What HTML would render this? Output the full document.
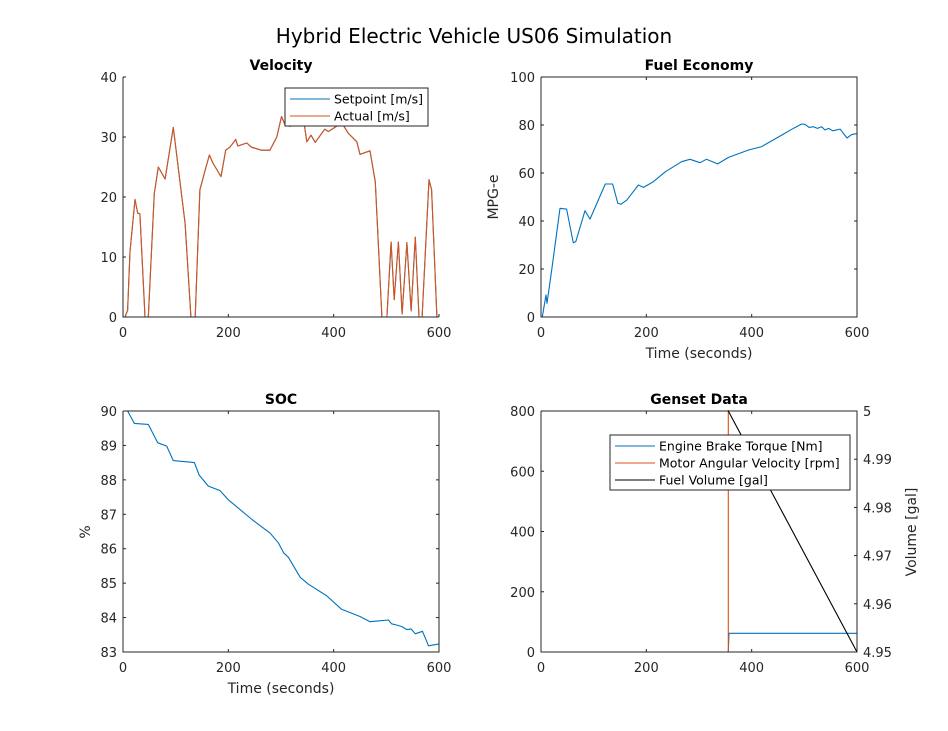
<!DOCTYPE html>
<html><head><meta charset="utf-8"><style>
body{margin:0;background:#fff;width:948px;height:731px;overflow:hidden}
svg{display:block;font-family:"DejaVu Sans","Liberation Sans",sans-serif}
</style></head><body>
<svg id="fig" width="948" height="731" viewBox="0 0 948 731" xmlns="http://www.w3.org/2000/svg">
<rect x="0" y="0" width="948" height="731" fill="#fff"/>
<text x="474" y="43" text-anchor="middle" font-size="20" fill="#000">Hybrid Electric Vehicle US06 Simulation</text>
</svg>
<script>
const velT=[0,3.8,8.8,13.3,22.8,28,32,41.8,48,59.5,67,80,95.6,118,129,137,146,156,164,171,186,195,203,214,218,235,244,263,279,292,301,308,317,330,344,349,357,365,383,390,409,418,428,444,450,469,479,491.5,501,509,515,523,530,539,547,555,562,568,581,586,596,600];
const velV=[0,0,1.1,10.9,19.6,17.3,17.2,0,0,20.6,25,23,31.6,15.6,0,0,21.2,24.5,27,25.6,23.4,27.8,28.3,29.6,28.5,29,28.3,27.8,27.8,30,33.4,32,31.8,32,32.2,29.2,30.3,29.1,31.3,30.9,32,32,30.6,29.2,27.1,27.7,22.5,0,0,12.5,2.9,12.5,0.5,12.4,1,13.3,0,0,22.9,21.2,0,0];
const feT=[0,2.5,9.5,11.4,20.3,36,48.7,61.4,66,83.5,93,122,136,146,152,163,185,194.6,213.6,236,267,283,302,314,335.5,356,394,419,457,476,495,501,509,517,525,533,539,546,554,568,581,590,600];
const feV=[0,0,9.2,5.7,19.6,45.3,44.9,30.9,31.4,44.3,40.8,55.4,55.4,47.3,47,48.7,55,54,56.4,60.5,64.7,65.7,64.3,65.7,63.8,66.5,69.6,71,75.8,78.2,80.4,80.3,79,79.3,78.6,79.3,77.9,78.6,77.6,78.3,74.6,76,76.4];
const socT=[0,8.8,21.5,48,65.8,83,95.6,135.5,144.4,162,184,200,245,279.5,295.5,305,314,336.5,352,387,415,450,469,504,510,520,529,539,547,555,568.7,580,599];
const socV=[90,90,89.64,89.61,89.08,88.98,88.56,88.5,88.14,87.82,87.69,87.42,86.85,86.45,86.16,85.88,85.75,85.17,84.97,84.63,84.24,84.03,83.88,83.93,83.82,83.78,83.74,83.65,83.67,83.53,83.6,83.18,83.23];
const torqT=[0,355.7,357,600];
const torqV=[0,0,62,62];
const angT=[0,355.7,355.7,600];
const angV=[0,0,820,820];
const fuelT=[0,355.7,600];
const fuelV=[5,5,4.95];
const xTicks=[0,200,400,600];
const velTicks=[0,10,20,30,40];
const feTicks=[0,20,40,60,80,100];
const socTicks=[83,84,85,86,87,88,89,90];
const genTicks=[0,200,400,600,800];
const volTicks=[4.95,4.96,4.97,4.98,4.99,5];
const volTickLabels=["4.95","4.96","4.97","4.98","4.99","5"];

const NS="http://www.w3.org/2000/svg";
const svg=document.getElementById('fig');
function mk(tag,attrs,parent){const e=document.createElementNS(NS,tag);for(const k in attrs)e.setAttribute(k,attrs[k]);(parent||svg).appendChild(e);return e;}
function txt(s,attrs,parent){const e=mk('text',attrs,parent);e.textContent=s;return e;}
function axes(name,x0,y0,x1,y1,xmin,xmax,ymin,ymax,box){
  const g=mk('g',{});
  
  
  const sx=v=>x0+(v-xmin)/(xmax-xmin)*(x1-x0);
  const sy=v=>y1-(v-ymin)/(ymax-ymin)*(y1-y0);
  return {g,sx,sy,x0,y0,x1,y1,box};
}
function frame(a){
  const c='#262626';
  const l=mk('path',{d:`M${a.x0},${a.y0}V${a.y1}H${a.x1}`+(a.box?`V${a.y0}H${a.x0}`:''),fill:'none',stroke:c,'stroke-width':1},a.g);
  
  
}
function xaxis(a){
  xTicks.forEach(t=>{const x=a.sx(t);
    mk('line',{x1:x,x2:x,y1:a.y1,y2:a.y1-3,stroke:'#262626'},a.g);
    if(a.box)mk('line',{x1:x,x2:x,y1:a.y0,y2:a.y0+3,stroke:'#262626'},a.g);
    const e=txt(String(t),{x:x,y:a.y1+20,'text-anchor':'middle','font-size':13,fill:'#262626'},a.g);
    
    
  });
}
function yaxis(a,ticks,right){
  ticks.forEach(t=>{const y=a.sy(t);
    mk('line',{x1:a.x0,x2:a.x0+3,y1:y,y2:y,stroke:'#262626'},a.g);
    if(a.box&&right!==false)mk('line',{x1:a.x1,x2:a.x1-3,y1:y,y2:y,stroke:'#262626'},a.g);
    const e=txt(String(t),{x:a.x0-6,y:y+5,'text-anchor':'end','font-size':13,fill:'#262626'},a.g);
    
    
  });
}
function line(a,T,V,color,name,sy){
  sy=sy||a.sy;
  const d=T.map((t,i)=>(i?'L':'M')+a.sx(t).toFixed(1)+','+sy(V[i]).toFixed(1)).join('');
  const p=mk('path',{d:d,fill:'none',stroke:color,'stroke-width':1.1,'stroke-linejoin':'round'},a.g);
  
  
  return p;
}
function title(a,s,name){
  const e=txt(s,{x:(a.x0+a.x1)/2,y:a.y0-7,'text-anchor':'middle','font-size':14,'font-weight':'bold',fill:'#000'},a.g);
  
  
}
function label(a,s,x,y,rot,name){
  const e=txt(s,{x:x,y:y,'text-anchor':'middle','font-size':14,fill:'#262626',transform:rot?`rotate(-90 ${x} ${y})`:''},a.g);
  
  
}
function legend(a,x,y,w,entries,name){
  const g=mk('g',{},a.g);
  
  
  const h=entries.length*17+4;
  mk('rect',{x:x,y:y,width:w,height:h,fill:'#fff',stroke:'#262626','stroke-width':1},g);
  entries.forEach((en,i)=>{const yy=y+11+i*17;
    mk('line',{x1:x+5,x2:x+45,y1:yy,y2:yy,stroke:en[1],'stroke-width':1.1},g);
    const t=txt(en[0],{x:x+49,y:yy+4.5,'font-size':12.5,fill:'#000'},g);
    
    
  });
}
const BLUE='#0072BD',ORANGE='#D95319';
// Velocity
let a=axes('velocity-axes',123,77,439,317,0,600,0,40,false);
line(a,velT,velV,BLUE,'setpoint-line');
line(a,velT,velV,ORANGE,'actual-line');
frame(a);xaxis(a);yaxis(a,velTicks);title(a,'Velocity','velocity-title');
legend(a,285,88,143,[['Setpoint [m/s]',BLUE],['Actual [m/s]',ORANGE]],'velocity-legend');
// Fuel economy
a=axes('fuel-economy-axes',541,77,857,317,0,600,0,100,true);
line(a,feT,feV,BLUE,'mpge-line');
frame(a);xaxis(a);yaxis(a,feTicks);title(a,'Fuel Economy','fuel-economy-title');
label(a,'MPG-e',498,197,true,'y-axis-title');
label(a,'Time (seconds)',699,358,false,'x-axis-title');
// SOC
a=axes('soc-axes',123,411,439,652,0,600,83,90,true);
line(a,socT,socV,BLUE,'soc-line');
frame(a);xaxis(a);yaxis(a,socTicks);title(a,'SOC','soc-title');
label(a,'%',90,532,true,'y-axis-title');
label(a,'Time (seconds)',281,693,false,'x-axis-title');
// Genset
a=axes('genset-axes',541,411,857,652,0,600,0,800,true);
const syR=v=>652-(v-4.95)/(0.05)*241;
const clip=mk('clipPath',{id:'gc'},svg);mk('rect',{x:541,y:410,width:316,height:243},clip);
const gl=mk('g',{'clip-path':'url(#gc)'},a.g);
const sub={g:gl,sx:a.sx,sy:a.sy};
line(sub,torqT,torqV,BLUE,'torque-line');
line(sub,angT,angV,ORANGE,'angular-velocity-line');
line(sub,fuelT,fuelV,'#000','fuel-volume-line',syR);
frame(a);xaxis(a);yaxis(a,genTicks,false);title(a,'Genset Data','genset-title');
volTicks.forEach((t,i)=>{const y=syR(t);
  mk('line',{x1:857,x2:854,y1:y,y2:y,stroke:'#262626'},a.g);
  const e=txt(volTickLabels[i],{x:863,y:y+5,'font-size':13,fill:'#262626'},a.g);
  
  
});
label(a,'Volume [gal]',916,532,true,'y-right-axis-title');
legend(a,610,435,240,[['Engine Brake Torque [Nm]',BLUE],['Motor Angular Velocity [rpm]',ORANGE],['Fuel Volume [gal]','#000']],'genset-legend');
</script>
</body></html>
